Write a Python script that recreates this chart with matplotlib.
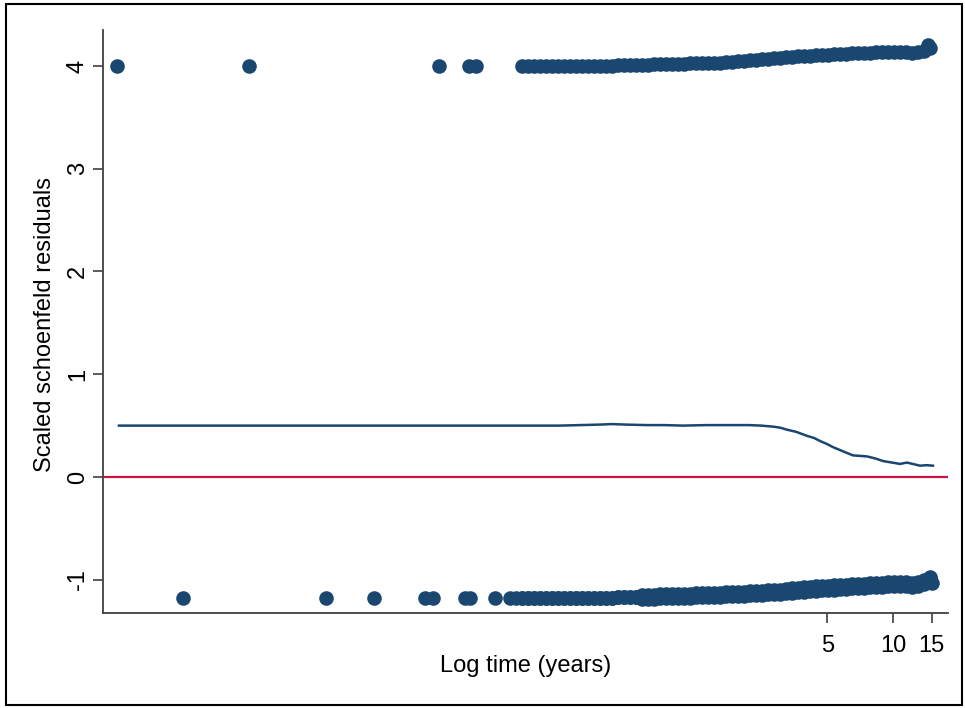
import matplotlib
matplotlib.use('Agg')
import matplotlib.pyplot as plt
from matplotlib.patches import Rectangle

plt.rcParams['font.family'] = ['Liberation Sans', 'DejaVu Sans']

# ---------------- data ----------------
# isolated early events
top_iso_time = [0.00286, 0.01146, 0.0845, 0.116, 0.124, 14.45]
top_iso_resid = [4.00, 4.00, 4.00, 4.00, 4.00, 4.20]
bot_iso_time = [0.00573, 0.0258, 0.0427, 0.0729, 0.0794, 0.111, 0.117, 0.152,
                0.179, 0.190, 14.8, 15.1]
bot_iso_resid = [-1.175, -1.175, -1.175, -1.175, -1.175, -1.175, -1.175, -1.175,
                 -1.175, -1.175, -0.97, -1.03]

# dense band of events
band_time = [0.202, 0.216, 0.230, 0.245, 0.260, 0.277, 0.295, 0.315, 0.335, 0.357,
             0.380, 0.405, 0.431, 0.459, 0.489, 0.521, 0.555, 0.591, 0.630, 0.670,
             0.714, 0.761, 0.811, 0.863, 0.919, 0.979, 1.04, 1.11, 1.18, 1.26,
             1.34, 1.43, 1.52, 1.62, 1.73, 1.84, 1.96, 2.09, 2.22, 2.37,
             2.52, 2.69, 2.86, 3.05, 3.25, 3.46, 3.68, 3.92, 4.18, 4.45,
             4.74, 5.05, 5.38, 5.73, 6.10, 6.50, 6.92, 7.37, 7.85, 8.36,
             8.91, 9.49, 10.1, 10.8, 11.5, 12.2, 13.0, 13.9, 14.8]

top_band_resid = [4.00, 4.00, 4.00, 4.00, 4.00, 4.00, 4.00, 4.00, 4.00, 4.00,
                  4.00, 4.00, 4.00, 4.00, 4.00, 4.00, 4.005, 4.005, 4.01, 4.01,
                  4.01, 4.01, 4.015, 4.015, 4.015, 4.02, 4.02, 4.02, 4.025, 4.025,
                  4.025, 4.03, 4.03, 4.03, 4.035, 4.04, 4.045, 4.05, 4.055, 4.06,
                  4.065, 4.07, 4.075, 4.08, 4.085, 4.09, 4.095, 4.10, 4.10, 4.105,
                  4.11, 4.11, 4.115, 4.12, 4.12, 4.125, 4.125, 4.13, 4.13, 4.135,
                  4.135, 4.14, 4.14, 4.14, 4.14, 4.13, 4.135, 4.15, 4.17]

bot_band_hi = [-1.175, -1.175, -1.175, -1.175, -1.175, -1.175, -1.175, -1.175, -1.175, -1.175,
               -1.175, -1.175, -1.175, -1.175, -1.175, -1.175, -1.17, -1.17, -1.17, -1.17,
               -1.145, -1.145, -1.145, -1.14, -1.14, -1.14, -1.135, -1.135, -1.135, -1.13,
               -1.13, -1.13, -1.125, -1.125, -1.12, -1.12, -1.115, -1.115, -1.11, -1.11,
               -1.105, -1.10, -1.10, -1.095, -1.09, -1.085, -1.08, -1.075, -1.07, -1.065,
               -1.06, -1.06, -1.055, -1.05, -1.05, -1.045, -1.04, -1.04, -1.035, -1.03,
               -1.03, -1.025, -1.025, -1.02, -1.025, -1.03, -1.02, -1.00, -0.98]

bot_band_lo = [-1.175, -1.175, -1.175, -1.175, -1.175, -1.175, -1.175, -1.175, -1.175, -1.175,
               -1.175, -1.175, -1.175, -1.175, -1.175, -1.175, -1.17, -1.17, -1.17, -1.17,
               -1.185, -1.185, -1.185, -1.18, -1.18, -1.18, -1.175, -1.175, -1.175, -1.17,
               -1.17, -1.17, -1.165, -1.165, -1.16, -1.16, -1.155, -1.155, -1.15, -1.15,
               -1.145, -1.14, -1.14, -1.135, -1.13, -1.125, -1.12, -1.115, -1.11, -1.105,
               -1.10, -1.10, -1.095, -1.09, -1.09, -1.085, -1.08, -1.08, -1.075, -1.07,
               -1.07, -1.065, -1.065, -1.06, -1.065, -1.07, -1.06, -1.04, -1.02]

# smoothed residual curve
smooth_time = [0.00292, 0.006, 0.012, 0.025, 0.05, 0.1, 0.2, 0.3, 0.46, 0.52,
               0.6, 0.75, 0.9, 1.1, 1.4, 1.8, 2.2, 2.5, 2.83, 3.05,
               3.28, 3.6, 4.05, 4.35, 4.64, 5.0, 5.32, 5.9, 6.56, 7.1,
               7.6, 8.3, 9.0, 9.9, 10.76, 11.2, 11.59, 12.4, 13.27, 14.2, 15.2]
smooth_resid = [0.50, 0.50, 0.50, 0.50, 0.50, 0.50, 0.50, 0.50, 0.51, 0.515,
                0.51, 0.505, 0.505, 0.50, 0.505, 0.505, 0.505, 0.50, 0.49, 0.48,
                0.46, 0.44, 0.40, 0.38, 0.35, 0.32, 0.29, 0.25, 0.21, 0.205,
                0.20, 0.18, 0.155, 0.14, 0.127, 0.135, 0.14, 0.125, 0.11, 0.115, 0.11]

x_ticks = [5, 10, 15]
x_tick_labels = ['5', '10', '15']
y_ticks = [-1, 0, 1, 2, 3, 4]
y_tick_labels = ['-1', '0', '1', '2', '3', '4']

# ---------------- figure ----------------
W, H = 965, 708
fig = plt.figure(figsize=(W / 100, H / 100), dpi=100)
fig.patch.set_facecolor('white')

ax = fig.add_axes([103 / W, 1 - 613 / H, 845 / W, 583 / H])

navy = '#1a476f'
red = '#cc1547'
ms = 10.5

ax.axhline(0, color=red, lw=1.6, zorder=2)
ax.plot(band_time, top_band_resid, 'o', color=navy, ms=ms, mew=0, zorder=3)
ax.plot(band_time, bot_band_hi, 'o', color=navy, ms=ms, mew=0, zorder=3)
ax.plot(band_time, bot_band_lo, 'o', color=navy, ms=ms, mew=0, zorder=3)
ax.plot(top_iso_time, top_iso_resid, 'o', color=navy, ms=ms, mew=0, zorder=3)
ax.plot(bot_iso_time, bot_iso_resid, 'o', color=navy, ms=ms, mew=0, zorder=3)
ax.plot(smooth_time, smooth_resid, '-', color=navy, lw=1.8, zorder=4)

ax.set_xscale('log')
ax.set_xlim(0.00247, 17.8)
ax.set_ylim(-1.3236, 4.350)

ax.set_xticks(x_ticks)
ax.set_xticklabels(x_tick_labels)
ax.minorticks_off()
ax.set_yticks(y_ticks)
ax.set_yticklabels(y_tick_labels)

for s in ['top', 'right']:
    ax.spines[s].set_visible(False)
for s in ['left', 'bottom']:
    ax.spines[s].set_color('#404040')
    ax.spines[s].set_linewidth(1.3)

ax.tick_params(axis='x', length=7.2, width=1.2, color='#404040', pad=9,
               labelsize=17, labelcolor='black')
ax.tick_params(axis='y', length=7.2, width=1.2, color='#404040', pad=3,
               labelsize=17, labelcolor='black', labelrotation=90)
for lab in ax.get_yticklabels():
    lab.set_va('center')

fig.text(525.5 / W, 1 - 666 / H, 'Log time (years)', ha='center', va='center', fontsize=17)
fig.text(45.5 / W, 1 - 325 / H, 'Scaled schoenfeld residuals', ha='center', va='center',
         rotation=90, fontsize=17)

fig.patches.append(Rectangle((5.5 / W, 3.5 / H), 956 / W, 701 / H, transform=fig.transFigure,
                             fill=False, edgecolor='black', lw=1.5))

fig.savefig('out.png', dpi=100)
